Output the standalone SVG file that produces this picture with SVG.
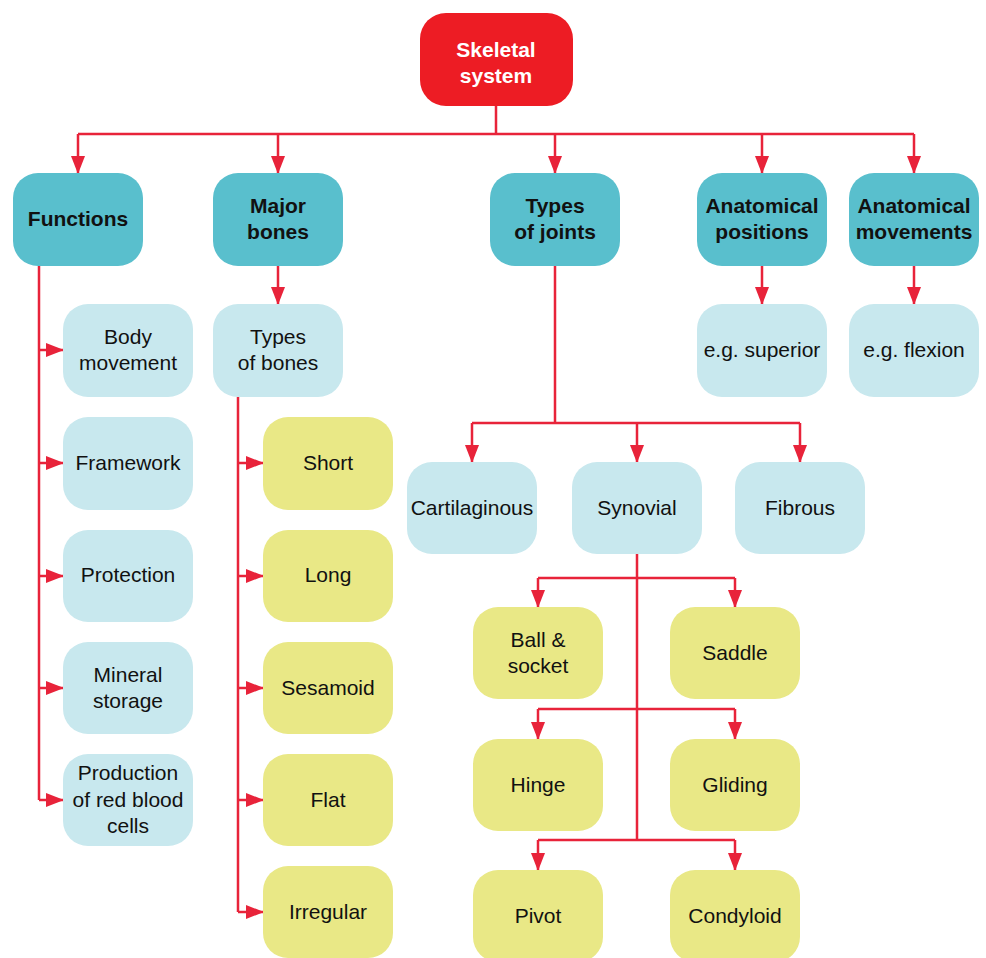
<svg xmlns="http://www.w3.org/2000/svg" width="986" height="958" viewBox="0 0 986 958">
<defs>
<marker id="ah" markerUnits="userSpaceOnUse" markerWidth="18" markerHeight="14" refX="17" refY="7" orient="auto">
<path d="M0,0 L18,7 L0,14 z" fill="#E8233A"/>
</marker>
<style>
.c{fill:none;stroke:#E8233A;stroke-width:2.5}
.a{marker-end:url(#ah)}
.root{fill:#ED1C24}
.l2{fill:#59BFCD}
.lb{fill:#C8E8EE}
.ye{fill:#E9E886}
text{font-family:"Liberation Sans",Arial,sans-serif;font-size:21px;text-anchor:middle;fill:#111}
.b{font-weight:bold}
.w{fill:#fff}
</style>
</defs>
<rect width="986" height="958" fill="#fff"/>
<g id="connectors">
<path class="c" d="M496,106 V134 M78,134 H914"/>
<path class="c a" d="M78,134 V173"/>
<path class="c a" d="M278,134 V173"/>
<path class="c a" d="M555,134 V173"/>
<path class="c a" d="M762,134 V173"/>
<path class="c a" d="M914,134 V173"/>
<path class="c" d="M39,266 V800"/>
<path class="c a" d="M39,350 H63"/>
<path class="c a" d="M39,463 H63"/>
<path class="c a" d="M39,576 H63"/>
<path class="c a" d="M39,688 H63"/>
<path class="c a" d="M39,800 H63"/>
<path class="c a" d="M278,266 V304"/>
<path class="c" d="M238,397 V912"/>
<path class="c a" d="M238,463 H263"/>
<path class="c a" d="M238,576 H263"/>
<path class="c a" d="M238,688 H263"/>
<path class="c a" d="M238,800 H263"/>
<path class="c a" d="M238,912 H263"/>
<path class="c a" d="M762,266 V304"/>
<path class="c a" d="M914,266 V304"/>
<path class="c" d="M555,266 V423 M472,423 H800"/>
<path class="c a" d="M472,423 V462"/>
<path class="c a" d="M637,423 V462"/>
<path class="c a" d="M800,423 V462"/>
<path class="c" d="M637,554 V840 M538,578 H735 M538,709 H735 M538,840 H735"/>
<path class="c a" d="M538,578 V607"/>
<path class="c a" d="M735,578 V607"/>
<path class="c a" d="M538,709 V739"/>
<path class="c a" d="M735,709 V739"/>
<path class="c a" d="M538,840 V870"/>
<path class="c a" d="M735,840 V870"/>
</g>
<g id="skeletal-system"><rect class="root" x="420" y="13" width="153" height="93" rx="26"/><text class="b w" x="496" y="57">Skeletal</text><text class="b w" x="496" y="83">system</text></g>
<g id="functions"><rect class="l2" x="13" y="173" width="130" height="93" rx="25"/><text class="b" x="78" y="226">Functions</text></g>
<g id="major-bones"><rect class="l2" x="213" y="173" width="130" height="93" rx="25"/><text class="b" x="278" y="213">Major</text><text class="b" x="278" y="239">bones</text></g>
<g id="types-of-joints"><rect class="l2" x="490" y="173" width="130" height="93" rx="25"/><text class="b" x="555" y="213">Types</text><text class="b" x="555" y="239">of joints</text></g>
<g id="anatomical-positions"><rect class="l2" x="697" y="173" width="130" height="93" rx="25"/><text class="b" x="762" y="213">Anatomical</text><text class="b" x="762" y="239">positions</text></g>
<g id="anatomical-movements"><rect class="l2" x="849" y="173" width="130" height="93" rx="25"/><text class="b" x="914" y="213">Anatomical</text><text class="b" x="914" y="239">movements</text></g>
<g id="body-movement"><rect class="lb" x="63" y="304" width="130" height="93" rx="25"/><text x="128" y="344">Body</text><text x="128" y="370">movement</text></g>
<g id="framework"><rect class="lb" x="63" y="417" width="130" height="93" rx="25"/><text x="128" y="470">Framework</text></g>
<g id="protection"><rect class="lb" x="63" y="530" width="130" height="92" rx="25"/><text x="128" y="582">Protection</text></g>
<g id="mineral-storage"><rect class="lb" x="63" y="642" width="130" height="92" rx="25"/><text x="128" y="682">Mineral</text><text x="128" y="708">storage</text></g>
<g id="production"><rect class="lb" x="63" y="754" width="130" height="92" rx="25"/><text x="128" y="780">Production</text><text x="128" y="807">of red blood</text><text x="128" y="833">cells</text></g>
<g id="types-of-bones"><rect class="lb" x="213" y="304" width="130" height="93" rx="25"/><text x="278" y="344">Types</text><text x="278" y="370">of bones</text></g>
<g id="short"><rect class="ye" x="263" y="417" width="130" height="93" rx="25"/><text x="328" y="470">Short</text></g>
<g id="long"><rect class="ye" x="263" y="530" width="130" height="92" rx="25"/><text x="328" y="582">Long</text></g>
<g id="sesamoid"><rect class="ye" x="263" y="642" width="130" height="92" rx="25"/><text x="328" y="695">Sesamoid</text></g>
<g id="flat"><rect class="ye" x="263" y="754" width="130" height="92" rx="25"/><text x="328" y="807">Flat</text></g>
<g id="irregular"><rect class="ye" x="263" y="866" width="130" height="92" rx="25"/><text x="328" y="919">Irregular</text></g>
<g id="e-g-superior"><rect class="lb" x="697" y="304" width="130" height="93" rx="25"/><text x="762" y="357">e.g. superior</text></g>
<g id="e-g-flexion"><rect class="lb" x="849" y="304" width="130" height="93" rx="25"/><text x="914" y="357">e.g. flexion</text></g>
<g id="cartilaginous"><rect class="lb" x="407" y="462" width="130" height="92" rx="25"/><text x="472" y="515">Cartilaginous</text></g>
<g id="synovial"><rect class="lb" x="572" y="462" width="130" height="92" rx="25"/><text x="637" y="515">Synovial</text></g>
<g id="fibrous"><rect class="lb" x="735" y="462" width="130" height="92" rx="25"/><text x="800" y="515">Fibrous</text></g>
<g id="ball-socket"><rect class="ye" x="473" y="607" width="130" height="92" rx="25"/><text x="538" y="647">Ball &amp;</text><text x="538" y="673">socket</text></g>
<g id="saddle"><rect class="ye" x="670" y="607" width="130" height="92" rx="25"/><text x="735" y="660">Saddle</text></g>
<g id="hinge"><rect class="ye" x="473" y="739" width="130" height="92" rx="25"/><text x="538" y="792">Hinge</text></g>
<g id="gliding"><rect class="ye" x="670" y="739" width="130" height="92" rx="25"/><text x="735" y="792">Gliding</text></g>
<g id="pivot"><rect class="ye" x="473" y="870" width="130" height="92" rx="25"/><text x="538" y="923">Pivot</text></g>
<g id="condyloid"><rect class="ye" x="670" y="870" width="130" height="92" rx="25"/><text x="735" y="923">Condyloid</text></g>
</svg>
